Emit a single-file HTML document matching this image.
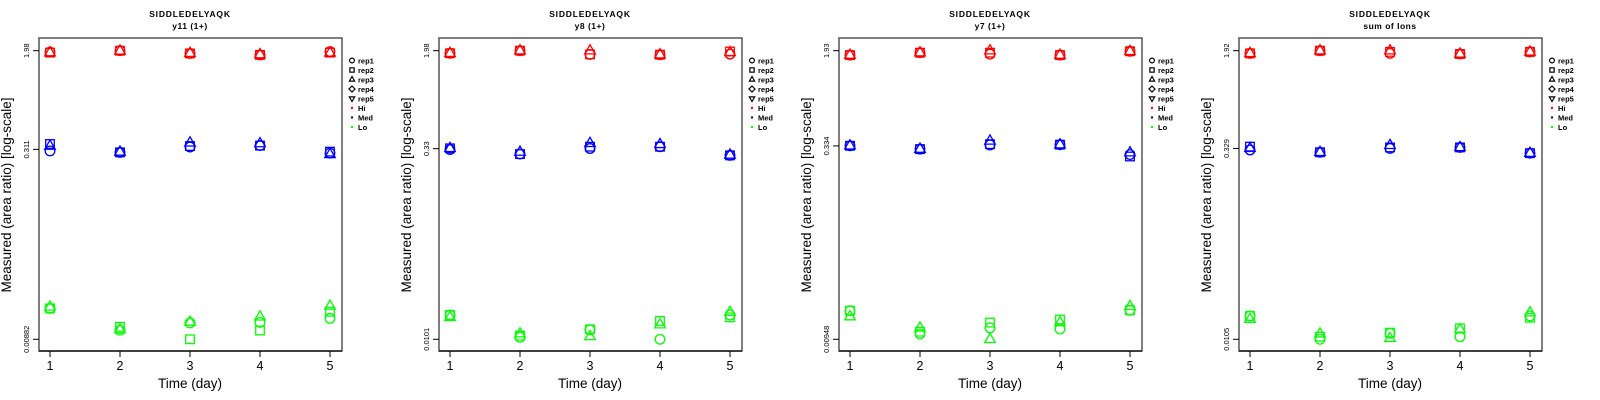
<!DOCTYPE html>
<html><head><meta charset="utf-8">
<style>
html,body{margin:0;padding:0;background:#fff;}
svg{display:block;font-family:"Liberation Sans",sans-serif;}
</style></head>
<body>
<svg id="chart" width="1600" height="400" viewBox="0 0 1600 400" xmlns="http://www.w3.org/2000/svg"></svg>
<script>
const days = [1, 2, 3, 4, 5];
const repNames = ["rep1", "rep2", "rep3", "rep4", "rep5"];
const levelNames = ["Hi", "Med", "Lo"];
const panelTitles = ["y11 (1+)", "y8 (1+)", "y7 (1+)", "sum of Ions"];
const yTickLabels = [["1.98","0.311","0.00882"],["1.98","0.33","0.0101"],["1.93","0.334","0.00948"],["1.92","0.329","0.0105"]];
const yTickValues = [[1.98,0.311,0.00882],[1.98,0.33,0.0101],[1.93,0.334,0.00948],[1.92,0.329,0.0105]];
// values[panel][level][rep][day] (rep1..rep3 visible)
const p1Hi = [[1.93,1.98,1.88,1.83,1.95],[1.91,1.98,1.88,1.83,1.91],[1.91,1.97,1.89,1.84,1.90]];
const p1Med = [[0.302,0.294,0.325,0.334,0.290],[0.344,0.294,0.331,0.334,0.298],[0.331,0.296,0.352,0.347,0.283]];
const p1Lo = [[0.01575,0.01047,0.0120,0.0121,0.01306],[0.01575,0.01115,0.00882,0.0104,0.01479],[0.0162,0.01060,0.0122,0.01345,0.01645]];
const p2Hi = [[1.89,1.98,1.85,1.84,1.86],[1.89,1.98,1.85,1.84,1.95],[1.89,1.98,1.98,1.84,1.92]];
const p2Med = [[0.325,0.299,0.331,0.342,0.292],[0.332,0.299,0.342,0.342,0.292],[0.332,0.310,0.364,0.357,0.294]];
const p2Lo = [[0.01575,0.01047,0.0120,0.0101,0.01575],[0.01575,0.0108,0.01213,0.01413,0.0151],[0.0151,0.0112,0.01065,0.0132,0.0166]];
const p3Hi = [[1.78,1.86,1.81,1.78,1.91],[1.78,1.86,1.86,1.78,1.91],[1.78,1.86,1.93,1.78,1.91]];
const p3Med = [[0.335,0.315,0.340,0.342,0.285],[0.335,0.315,0.345,0.342,0.275],[0.335,0.315,0.366,0.342,0.295]];
const p3Lo = [[0.01606,0.01047,0.0117,0.01145,0.0162],[0.01606,0.0109,0.0129,0.01365,0.0162],[0.0144,0.0117,0.00948,0.0129,0.0174]];
const p4Hi = [[1.83,1.92,1.83,1.81,1.88],[1.83,1.92,1.88,1.81,1.88],[1.83,1.92,1.92,1.81,1.88]];
const p4Med = [[0.320,0.307,0.329,0.335,0.302],[0.340,0.307,0.335,0.335,0.302],[0.330,0.307,0.348,0.335,0.302]];
const p4Lo = [[0.0160,0.0105,0.0117,0.0110,0.0160],[0.0160,0.0110,0.01183,0.0128,0.0155],[0.0151,0.0116,0.0107,0.0125,0.0170]];
const panelData = [[p1Hi,p1Med,p1Lo],[p2Hi,p2Med,p2Lo],[p3Hi,p3Med,p3Lo],[p4Hi,p4Med,p4Lo]];
const levelColors = ["#ff0000","#0000ff","#00ff00"];

const NS = "http://www.w3.org/2000/svg";
const svg = document.getElementById("chart");
function mk(tag, attrs, parent, text){
  const e = document.createElementNS(NS, tag);
  for (const k in attrs) e.setAttribute(k, attrs[k]);
  if (text !== undefined) e.textContent = text;
  parent.appendChild(e);
  return e;
}
const BOX = {l:39, r:342, t:38, b:351};
function xScale(d, ox){ return ox + 50 + (d - 1) * 70; }
function makeYScale(minV, maxV){
  const lmin = Math.log10(minV), lmax = Math.log10(maxV);
  return v => 339.3 - (Math.log10(v) - lmin) / (lmax - lmin) * 288.6;
}
function marker(g, shape, x, y, color){
  let e;
  if (shape === 0) e = mk("circle",{cx:x,cy:y,r:4.8},g);
  else if (shape === 1) e = mk("rect",{x:x-4.3,y:y-4.3,width:8.6,height:8.6},g);
  else if (shape === 2) e = mk("polygon",{points:`${x},${y-6} ${x-5.3},${y+3.2} ${x+5.3},${y+3.2}`},g);
  else if (shape === 3) e = mk("polygon",{points:`${x},${y-6} ${x+6},${y} ${x},${y+6} ${x-6},${y}`},g);
  else e = mk("polygon",{points:`${x},${y+6} ${x-5.3},${y-3.2} ${x+5.3},${y-3.2}`},g);
  e.setAttribute("fill","none");
  e.setAttribute("stroke",color);
  e.setAttribute("stroke-width","1.3");
  return e;
}

for (let p = 0; p < 4; p++){
  const ox = p * 400;
  const g = mk("g",{},svg);
  
  
  const t1 = mk("text",{x:ox+190,y:17,"text-anchor":"middle","font-size":"8.5","font-weight":"bold","letter-spacing":"0.8"},g,"SIDDLEDELYAQK");
  
  
  const t2 = mk("text",{x:ox+190,y:29,"text-anchor":"middle","font-size":"8.5","font-weight":"bold","letter-spacing":"0.5"},g,panelTitles[p]);
  
  

  const box = mk("rect",{x:ox+BOX.l,y:BOX.t,width:BOX.r-BOX.l,height:BOX.b-BOX.t,fill:"none",stroke:"#555","stroke-width":"1.5"},g);
  
  
  const xa = mk("line",{x1:ox+BOX.l,y1:BOX.b,x2:ox+BOX.r,y2:BOX.b,stroke:"#000","stroke-width":"1.3"},g);
  
  

  const all = panelData[p].flat(2);
  const ys = makeYScale(Math.min(...all), Math.max(...all));

  days.forEach(d => {
    const x = xScale(d, ox);
    const tk = mk("line",{x1:x,y1:BOX.b,x2:x,y2:BOX.b+6,stroke:"#000","stroke-width":"1"},g);
    
    
    const tl = mk("text",{x:x,y:370,"text-anchor":"middle","font-size":"12.5"},g,String(d));
    
    
  });
  yTickValues[p].forEach((v,i) => {
    const y = ys(v);
    const tk = mk("line",{x1:ox+BOX.l-6,y1:y,x2:ox+BOX.l,y2:y,stroke:"#000","stroke-width":"1"},g);
    
    
    const tl = mk("text",{x:0,y:0,"text-anchor":"middle","font-size":"7.5",transform:`translate(${ox+29},${y}) rotate(-90)`},g,yTickLabels[p][i]);
    
    
  });
  const xt = mk("text",{x:ox+190,y:388,"text-anchor":"middle","font-size":"13.5"},g,"Time (day)");
  
  
  const yt = mk("text",{x:0,y:0,"text-anchor":"middle","font-size":"13.5",transform:`translate(${ox+11},${195}) rotate(-90)`},g,"Measured (area ratio) [log-scale]");
  
  

  panelData[p].forEach((lvl, li) => {
    lvl.forEach((rep, ri) => {
      rep.forEach((v, di) => {
        const m = marker(g, ri, xScale(days[di], ox), ys(v), levelColors[li]);
        
        
      });
    });
  });

  const lg = mk("g",{},g);
  
  
  repNames.forEach((r, i) => {
    const y = 60.5 + i * 9.5;
    const e = mk("g",{},lg);
    
    
    const sm = marker(e, i, ox+352, y, "#000");
    sm.setAttribute("transform",`translate(${ox+352},${y}) scale(0.5) translate(${-(ox+352)},${-y})`);
    sm.setAttribute("stroke-width","2.4");
    mk("text",{x:ox+358,y:y+3,"font-size":"7.5","font-weight":"bold"},e,r);
  });
  levelNames.forEach((n, i) => {
    const y = 60.5 + (5 + i) * 9.5;
    const e = mk("g",{},lg);
    
    
    mk("circle",{cx:ox+352,cy:y,r:1.2,fill:levelColors[i]},e);
    mk("text",{x:ox+358,y:y+3,"font-size":"7.5","font-weight":"bold"},e,n);
  });
}
</script>
</body></html>
